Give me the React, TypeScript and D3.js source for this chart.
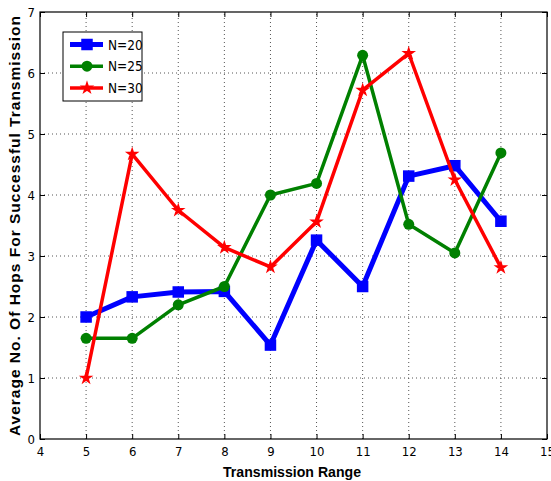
import React, { useEffect, useRef } from 'react';
import * as d3 from 'd3';

const ranges = [5, 6, 7, 8, 9, 10, 11, 12, 13, 14];
const n20 = [2.0, 2.33, 2.41, 2.42, 1.54, 3.26, 2.5, 4.31, 4.48, 3.57];
const n25 = [1.65, 1.65, 2.2, 2.5, 4.0, 4.19, 6.29, 3.52, 3.05, 4.69];
const n30 = [1.0, 4.67, 3.75, 3.14, 2.82, 3.56, 5.72, 6.32, 4.25, 2.81];
const xTicks = [4, 5, 6, 7, 8, 9, 10, 11, 12, 13, 14, 15];
const yTicks = [0, 1, 2, 3, 4, 5, 6, 7];

const seriesList = [
  { name: 'N=20', values: n20, color: '#0000ff', marker: 'square', width: 5 },
  { name: 'N=25', values: n25, color: '#008000', marker: 'circle', width: 3.5 },
  { name: 'N=30', values: n30, color: '#ff0000', marker: 'star', width: 3.5 },
];

const App = () => {
  const ref = useRef<SVGSVGElement>(null);

  useEffect(() => {
    const svg = d3.select(ref.current);
    svg.selectAll('*').remove();

    const width = 551;
    const height = 481;
    const margin = { top: 12, right: 4, bottom: 42, left: 40 };
    const font = "'DejaVu Sans Condensed', 'Liberation Sans Narrow', sans-serif";

    const x = d3.scaleLinear().domain([4, 15]).range([margin.left, width - margin.right]);
    const y = d3.scaleLinear().domain([0, 7]).range([height - margin.bottom, margin.top]);

    svg.append('rect').attr('width', width).attr('height', height).attr('fill', '#fff');

    // grid
    const grid = svg.append('g');
    grid.selectAll('line.gx')
      .data(xTicks.slice(1, -1))
      .join('line')
      .attr('x1', (d) => x(d)).attr('x2', (d) => x(d))
      .attr('y1', y(0)).attr('y2', y(7))
      .attr('stroke', '#555').attr('stroke-width', 1).attr('stroke-dasharray', '1,3');
    grid.selectAll('line.gy')
      .data(yTicks.slice(1, -1))
      .join('line')
      .attr('y1', (d) => y(d)).attr('y2', (d) => y(d))
      .attr('x1', x(4)).attr('x2', x(15))
      .attr('stroke', '#555').attr('stroke-width', 1).attr('stroke-dasharray', '1,3');

    // axes
    const xAxis = svg.append('g')
      .attr('transform', `translate(0,${y(0)})`)
      .call(d3.axisBottom(x).tickValues(xTicks).tickSize(-5).tickPadding(8).tickFormat(d3.format('d')));
    const yAxis = svg.append('g')
      .attr('transform', `translate(${x(4)},0)`)
      .call(d3.axisLeft(y).tickValues(yTicks).tickSize(-5).tickPadding(5).tickFormat(d3.format('d')));
    [xAxis, yAxis].forEach((a) => {
      a.select('.domain').remove();
      a.selectAll('text').attr('font-family', font).attr('font-size', 13).attr('fill', '#000');
      a.selectAll('line').attr('stroke', '#000');
    });
    // top / right ticks
    svg.append('g')
      .attr('transform', `translate(0,${y(7)})`)
      .call(d3.axisTop(x).tickValues(xTicks).tickSize(-5).tickFormat(() => ''))
      .call((g) => g.select('.domain').remove());
    svg.append('g')
      .attr('transform', `translate(${x(15)},0)`)
      .call(d3.axisRight(y).tickValues(yTicks).tickSize(-5).tickFormat(() => ''))
      .call((g) => g.select('.domain').remove());

    svg.append('rect')
      .attr('x', x(4)).attr('y', y(7))
      .attr('width', x(15) - x(4)).attr('height', y(0) - y(7))
      .attr('fill', 'none').attr('stroke', '#000').attr('stroke-width', 1.2);

    const line = d3.line<number>()
      .x((_, i) => x(ranges[i]))
      .y((d) => y(d));

    const drawMarker = (g: any, kind: string, cx: number, cy: number, color: string) => {
      if (kind === 'square') {
        g.append('rect').attr('x', cx - 5).attr('y', cy - 5).attr('width', 10).attr('height', 10)
          .attr('fill', color).attr('stroke', color).attr('stroke-width', 1.5);
      } else if (kind === 'circle') {
        g.append('circle').attr('cx', cx).attr('cy', cy).attr('r', 5.5).attr('fill', color);
      } else {
        g.append('path')
          .attr('d', d3.symbol(d3.symbolStar, 22)())
          .attr('transform', `translate(${cx},${cy})`)
          .attr('fill', color).attr('stroke', color).attr('stroke-width', 2);
      }
    };

    seriesList.forEach((s) => {
      svg.append('path')
        .datum(s.values)
        .attr('fill', 'none')
        .attr('stroke', s.color)
        .attr('stroke-width', s.width)
        .attr('stroke-linejoin', 'round')
        .attr('d', line);
      const mg = svg.append('g');
      s.values.forEach((v, i) => drawMarker(mg, s.marker, x(ranges[i]), y(v), s.color));
    });

    // legend
    const lg = svg.append('g');
    lg.append('rect')
      .attr('x', 63).attr('y', 32).attr('width', 79).attr('height', 69)
      .attr('fill', '#fff').attr('stroke', '#000').attr('stroke-width', 1);
    seriesList.forEach((s, i) => {
      const ly = 44.5 + i * 21.7;
      lg.append('line').attr('x1', 70).attr('x2', 103).attr('y1', ly).attr('y2', ly)
        .attr('stroke', s.color).attr('stroke-width', s.width);
      drawMarker(lg, s.marker, 87, ly, s.color);
      lg.append('text').attr('x', 108).attr('y', ly + 5)
        .attr('font-family', font).attr('font-size', 13.5).text(s.name);
    });

    // axis labels
    svg.append('text')
      .attr('x', 292).attr('y', 477)
      .attr('text-anchor', 'middle')
      .attr('font-family', "'Liberation Sans', Arial, sans-serif")
      .attr('font-weight', 'bold').attr('font-size', 15.5)
      .attr('textLength', 138).attr('lengthAdjust', 'spacingAndGlyphs')
      .text('Transmission Range');
    svg.append('text')
      .attr('transform', `translate(20,${(y(0) + y(7)) / 2}) rotate(-90)`)
      .attr('text-anchor', 'middle')
      .attr('font-family', "'Liberation Sans', Arial, sans-serif")
      .attr('font-weight', 'bold').attr('font-size', 15.5)
      .attr('letter-spacing', 1)
      .text('Average No. Of Hops For Successful Transmission');
  }, []);

  return <svg ref={ref} width={551} height={481} style={{ position: 'absolute', left: 0, top: 0 }}></svg>;
};

export default App;
